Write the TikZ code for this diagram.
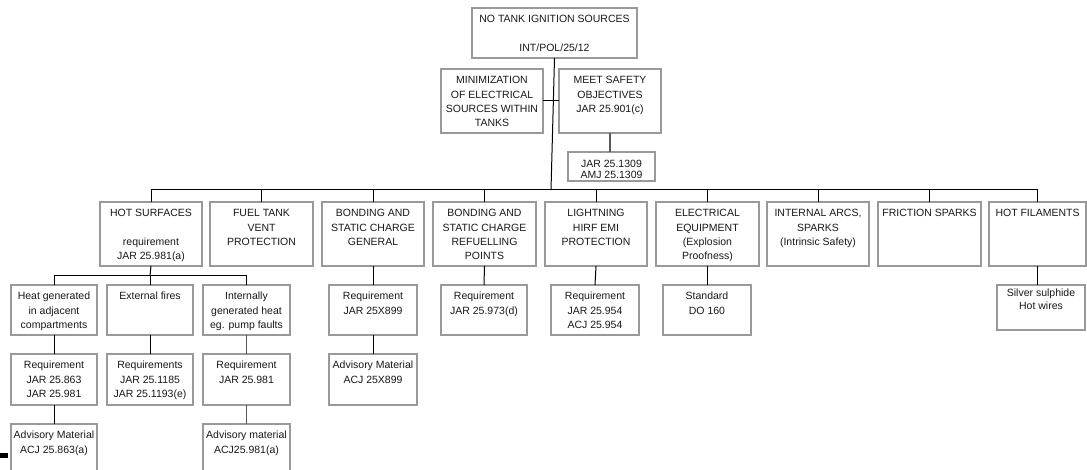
\documentclass[tikz,border=0pt]{standalone}
\usepackage{fontspec}
\setmainfont{Liberation Sans}
\usetikzlibrary{calc}
\tikzset{
  box/.style={draw=black!40, line width=1.2pt, fill=white, inner sep=0pt, outer sep=0pt},
  txt/.style={inner sep=0pt, align=center, text=black!90, font=\fontsize{10.5}{14.3}\selectfont},
  conn/.style={draw=black, line width=1pt},
  conng/.style={draw=black!65, line width=1.2pt}
}
\newcommand\bx[7][4.75]{%
  \node[box, minimum width={#5-#3}, minimum height={#6-#4}, anchor=north west] (#2) at (#3,#4) {};
  \node[txt, anchor=north] at ($(#2.north)+(0,#1)$) {\strut #7};
}
\begin{document}
\begin{tikzpicture}[x=1pt,y=-1pt]
\useasboundingbox (0,0) rectangle (1087,470);
\clip (0,0) rectangle (1087,470);
\fill[white] (0,0) rectangle (1087,470);
% level 0/1
\bx{top}{472}{8}{637}{58}{NO TANK IGNITION SOURCES\\[14.3pt]INT/POL/25/12}
\bx{minim}{441}{69}{543}{133}{MINIMIZATION\\OF ELECTRICAL\\SOURCES WITHIN\\TANKS}
\bx{meet}{559}{69}{661}{133}{MEET SAFETY\\OBJECTIVES\\JAR 25.901(c)}
\node[box, minimum width=87, minimum height=29, anchor=north west] (jar) at (568,152) {};
\node[txt, anchor=north, font=\fontsize{10.5}{11}\selectfont] at ($(jar.north)+(0,7.5)$) {\strut JAR 25.1309\\AMJ 25.1309};
% level 2
\bx{hot}{100}{202}{202}{266}{HOT SURFACES\\[14.3pt]requirement\\JAR 25.981(a)}
\bx{fuel}{210}{202}{313}{266}{FUEL TANK\\VENT\\PROTECTION}
\bx{bondg}{322}{202}{424}{266}{BONDING AND\\STATIC CHARGE\\GENERAL}
\bx{bondr}{433}{202}{536}{266}{BONDING AND\\STATIC CHARGE\\REFUELLING\\POINTS}
\bx{light}{545}{202}{647}{266}{LIGHTNING\\HIRF EMI\\PROTECTION}
\bx{elec}{656}{202}{759}{266}{ELECTRICAL\\EQUIPMENT\\(Explosion\\Proofness)}
\bx{arcs}{767}{202}{869}{266}{INTERNAL ARCS,\\SPARKS\\(Intrinsic Safety)}
\bx{fric}{878}{202}{981}{266}{FRICTION SPARKS}
\bx{hotfil}{989}{202}{1086}{266}{HOT FILAMENTS}
% level 3
\bx{heat}{11}{285}{97}{335}{Heat generated\\in adjacent\\compartments}
\bx{ext}{107}{285}{193}{335}{External fires}
\bx{int}{203}{285}{290}{335}{Internally\\generated heat\\eg. pump faults}
\bx{req1}{11}{354}{97}{405}{Requirement\\JAR 25.863\\JAR 25.981}
\bx{req2}{107}{354}{193}{405}{Requirements\\JAR 25.1185\\JAR 25.1193(e)}
\bx{req3}{203}{354}{290}{405}{Requirement\\JAR 25.981}
\bx{adv1}{11}{424}{97}{480}{Advisory Material\\ACJ 25.863(a)}
\bx{adv3}{203}{424}{290}{480}{Advisory material\\ACJ25.981(a)}
\bx{reqbg}{329}{285}{417}{335}{Requirement\\JAR 25X899}
\bx{advbg}{329}{354}{417}{405}{Advisory Material\\ACJ 25X899}
\bx{reqbr}{441}{285}{527}{335}{Requirement\\JAR 25.973(d)}
\bx{reql}{551}{285}{639}{335}{Requirement\\JAR 25.954\\ACJ 25.954}
\bx{std}{663}{285}{751}{335}{Standard\\DO 160}
\node[box, minimum width=88, minimum height=45, anchor=north west] (silver) at (997,285) {};
\node[txt, anchor=north, font=\fontsize{10.5}{13}\selectfont] at ($(silver.north)+(0,2.6)$) {\strut Silver sulphide\\Hot wires};
% connectors
\coordinate (bus) at (551,190);
\coordinate (hbus) at (150,276);
\draw[conn] (top.south) -- (bus);
\draw[conn] (minim.east) -- (meet.west);
\draw[conng] (meet.south) -- (meet.south |- jar.north);
\foreach \n in {hot,fuel,bondg,bondr,light,elec,arcs,fric,hotfil}
  \draw[conn] (\n.north) |- (bus);
\draw[conn] (hot.south) -- (hbus);
\foreach \n in {heat,ext,int}
  \draw[conn] (\n.north) |- (hbus);
\draw[conn] (heat.south) -- (req1.north);
\draw[conn] (req1.south) -- (adv1.north);
\draw[conn] (ext.south) -- (req2.north);
\draw[conng] (int.south) -- (req3.north);
\draw[conng] (req3.south) -- (adv3.north);
\draw[conn] (bondg.south) -- (reqbg.north);
\draw[conn] (reqbg.south) -- (advbg.north);
\draw[conn] (bondr.south) -- (reqbr.north);
\draw[conn] (light.south) -- (reql.north);
\draw[conn] (elec.south) -- (elec.south |- std.north);
\draw[conn] (hotfil.south) -- (hotfil.south |- silver.north);
% small mark at lower left
\fill[black] (0,453) rectangle (8,458);
\end{tikzpicture}
\end{document}
